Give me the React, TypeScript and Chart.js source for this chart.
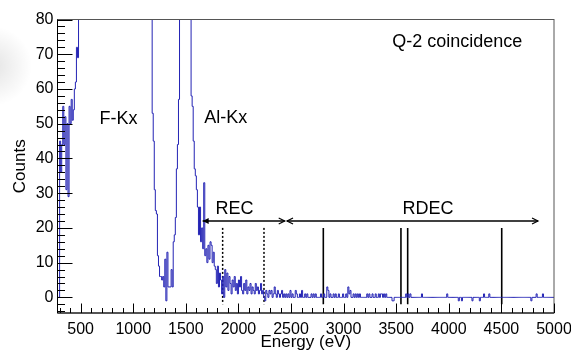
import React, { useEffect, useRef } from "react";
import { Chart, registerables } from "chart.js";

Chart.register(...registerables);

// ---- histogram data: 10 eV bins starting at 280 eV ----
const BIN_WIDTH = 10;
const X_START = 280;
const X_END = 5000;

// 280-470 eV
const lowEdgeCounts = [0, 0, 45, 36, 44, 55, 44, 52, 31, 50, 29, 55, 50, 57, 51, 54, 60, 62, 72, 69];
// 480-1170 eV (F-Kx peak, off scale)
const fPeakCounts = [
  95, 120, 150, 190, 240, 300, 380, 470, 580, 700,
  850, 1000, 1150, 1300, 1420, 1520, 1600, 1650, 1680, 1690,
  1680, 1650, 1600, 1540, 1470, 1390, 1300, 1210, 1120, 1030,
  940, 860, 780, 700, 630, 570, 510, 460, 410, 370,
  330, 300, 270, 250, 230, 210, 195, 180, 170, 160,
  150, 145, 140, 135, 130, 128, 126, 124, 122, 120,
  118, 115, 112, 110, 108, 105, 102, 98, 94, 88,
];
// 1180-1430 eV (valley)
const valleyCounts = [53, 45, 31, 25, 24, 12, 9, 6, 6, 5, 6, 3, 11, -1, 13, 3, 3, 3, 8, 3, 16, 18, 23, 37, 44, 57];
// 1440-1540 eV (Al-Kx peak, off scale)
const alPeakCounts = [110, 240, 520, 900, 1300, 1450, 1250, 850, 450, 200, 95];
// 1550-2290 eV
const recTailCounts = [
  58, 55, 45, 37, 35, 31, 26, 18, 26, 16,
  20, 14, 33, 12, 14, 10, 15, 11, 16, 15,
  10, 13, 9, 8, 4, 9, 3, 7, 5, 1,
  6, 0, 8, 3, 7, 2, 6, 4, 1, 5,
  3, 6, 2, 4, 1, 5, 3, 6, 2, 1,
  4, 2, 5, 1, 3, 2, 4, 1, 3, 2,
  1, 4, 2, 3, 1, 2, 4, 1, 2, 0,
  -1, 2, 1, 0, 2,
];
// 2300-2990 eV
const tailA = [
  1, 2, 0, 1, 3, 1, 0, 2, 1, 0,
  1, 2, 0, 1, 0, 1, 0, 1, 0, 2,
  0, 1, 0, 0, 2, 1, 0, 0, 1, 0,
  2, 0, 0, 1, 0, 1, 0, 0, 0, 1,
  0, 1, 0, 1, 0, 0, 0, 0, 1, 0,
  0, 1, 0, 0, 3, 2, 0, 1, 0, 0,
  1, 0, 1, 0, 0, 1, 0, 0, 0, 1,
];
// 3000-3990 eV
const tailB = [
  0, 0, 1, 0, 3, 1, 2, 0, 0, 1,
  0, 1, 0, 1, 0, 1, 0, 0, 0, 0,
  0, 0, 1, 0, 1, 0, 0, 1, 0, 0,
  1, 0, 0, 1, 0, 1, 1, 0, 1, 0,
  1, 0, 0, 0, 0, 0, -1, -1, 0, 0,
  0, 0, 0, 0, 0, 0, 0, 0, 0, 1,
  0, 1, 0, 1, 0, 0, 0, 0, 0, 0,
  0, 0, 0, 0, 1, 0, 0, 0, 0, 0,
  0, 0, 0, 0, 0, 0, 0, 0, 0, 0,
  0, 0, 0, 0, 0, 0, 0, 0, 1, 0,
];
// 4000-4990 eV
const tailC = [
  0, 0, 0, 0, 0, 0, 0, 0, 0, -1,
  0, 0, -1, 0, 0, 0, 0, 0, 0, 0,
  0, 0, -1, 0, 0, 0, 0, 0, 0, -1,
  0, 0, 0, 1, 0, 0, 0, 0, 1, 0,
  0, 0, 0, 0, 0, 0, 0, 0, 0, 0,
  0, 0, 0, 0, 0, 0, 0, 0, 0, 0,
  0, 0, 0, 0, 0, 0, 0, 0, 0, 0,
  0, 0, 0, 0, 0, 0, 0, 0, -1, 0,
  0, 0, 0, 1, 0, 0, 0, 0, 0, 1,
  0, 0, 0, 0, 0, 0, 0, 0, 0, 0,
];

// marker lines (eV)
const dottedMarkers = [1850, 2243];
const solidMarkers = [2807, 3545, 3609, 4503];
const markerTop = 20;
const markerBottom = -2;

// axis ticks
const xTickValues = [500, 1000, 1500, 2000, 2500, 3000, 3500, 4000, 4500, 5000];
const yTickValues = [0, 10, 20, 30, 40, 50, 60, 70, 80];

// arrows (eV, counts)
const recArrow = { from: 1660, to: 2440, y: 22 };
const rdecArrow = { from: 2462, to: 4848, y: 22 };

const labels = [
  { text: "F-Kx", x: 860, y: 51.9 },
  { text: "Al-Kx", x: 1880, y: 52.1 },
  { text: "REC", x: 1963, y: 26.0 },
  { text: "RDEC", x: 3803, y: 26.0 },
  { text: "Q-2 coincidence", x: 4081, y: 73.9 },
];

const FONT = "'Liberation Sans', Arial, Helvetica, sans-serif";

function buildHistogram() {
  const all = [
    ...lowEdgeCounts,
    ...fPeakCounts,
    ...valleyCounts,
    ...alPeakCounts,
    ...recTailCounts,
    ...tailA,
    ...tailB,
    ...tailC,
  ];
  const pts = all.map((v, i) => ({ x: X_START + i * BIN_WIDTH, y: v }));
  pts.push({ x: X_END, y: all[all.length - 1] });
  return pts;
}

const rootPlugin = {
  id: "rootStyle",
  beforeDraw(chart: any) {
    const ctx = chart.ctx;
    ctx.save();
    ctx.fillStyle = "#fff";
    ctx.fillRect(0, 0, chart.width, chart.height);
    const g = ctx.createRadialGradient(-8, 66, 2, -8, 66, 40);
    g.addColorStop(0, "rgba(0,0,0,0.10)");
    g.addColorStop(1, "rgba(0,0,0,0)");
    ctx.fillStyle = g;
    ctx.fillRect(0, 15, 45, 110);
    ctx.restore();
  },
  afterDatasetsDraw(chart: any) {
    const ctx = chart.ctx;
    const xs = chart.scales.x;
    const ys = chart.scales.y;
    const a = chart.chartArea;
    ctx.save();

    // frame
    ctx.lineWidth = 1;
    ctx.strokeStyle = "#555";
    ctx.strokeRect(a.left, a.top, a.right - a.left, a.bottom - a.top);
    ctx.strokeStyle = "#000";
    ctx.beginPath();
    ctx.moveTo(a.left, a.top);
    ctx.lineTo(a.left, a.bottom);
    ctx.lineTo(a.right, a.bottom);
    ctx.stroke();

    // y ticks (inside)
    ctx.beginPath();
    for (let v = -4; v <= 80; v += 2) {
      const py = Math.round(ys.getPixelForValue(v)) + 0.5;
      const len = v % 10 === 0 ? 15 : 7.5;
      ctx.moveTo(a.left, py);
      ctx.lineTo(a.left + len, py);
    }
    // x ticks (inside)
    for (let v = 300; v <= 5000; v += 100) {
      const px = Math.round(xs.getPixelForValue(v)) + 0.5;
      const len = v % 500 === 0 ? 9.5 : 5;
      ctx.moveTo(px, a.bottom);
      ctx.lineTo(px, a.bottom - len);
    }
    ctx.stroke();

    // arrows
    const arrow = (x1: number, x2: number, y: number, leftFilled: boolean, rightFilled: boolean) => {
      const p1 = xs.getPixelForValue(x1);
      const p2 = xs.getPixelForValue(x2);
      const py = ys.getPixelForValue(y);
      ctx.lineWidth = 1.5;
      ctx.strokeStyle = "#000";
      ctx.fillStyle = "#000";
      ctx.beginPath();
      ctx.moveTo(p1, py);
      ctx.lineTo(p2, py);
      ctx.stroke();
      const head = (tip: number, dir: number, filled: boolean) => {
        ctx.beginPath();
        ctx.moveTo(tip - dir * 6, py - 3);
        ctx.lineTo(tip, py);
        ctx.lineTo(tip - dir * 6, py + 3);
        if (filled) {
          ctx.closePath();
          ctx.fill();
        } else {
          ctx.lineWidth = 1.2;
          ctx.stroke();
        }
      };
      head(p1, -1, leftFilled);
      head(p2, 1, rightFilled);
    };
    arrow(recArrow.from, recArrow.to, recArrow.y, true, false);
    arrow(rdecArrow.from, rdecArrow.to, rdecArrow.y, false, false);

    // text labels
    ctx.fillStyle = "#000";
    ctx.font = `18px ${FONT}`;
    ctx.textAlign = "center";
    ctx.textBaseline = "alphabetic";
    for (const l of labels) {
      ctx.fillText(l.text, xs.getPixelForValue(l.x), ys.getPixelForValue(l.y) + 18 * 0.358);
    }

    // axis titles
    ctx.font = `17px ${FONT}`;
    ctx.fillText("Energy (eV)", (a.left + a.right) / 2, 346.5);
    ctx.save();
    ctx.translate(25, (a.top + a.bottom) / 2);
    ctx.rotate(-Math.PI / 2);
    ctx.fillText("Counts", 0, 0);
    ctx.restore();

    ctx.restore();
  },
};

export default function App() {
  const ref = useRef<HTMLCanvasElement | null>(null);

  useEffect(() => {
    document.body.style.margin = "0";
    const canvas = ref.current;
    if (!canvas) return;

    const markerSets = [
      ...dottedMarkers.map((e) => ({
        data: [
          { x: e, y: markerTop },
          { x: e, y: markerBottom },
        ],
        borderColor: "#000",
        borderWidth: 1.5,
        borderDash: [2, 2],
        pointRadius: 0,
      })),
      ...solidMarkers.map((e) => ({
        data: [
          { x: e, y: markerTop },
          { x: e, y: markerBottom },
        ],
        borderColor: "#000",
        borderWidth: 1.6,
        pointRadius: 0,
      })),
    ];

    const chart = new Chart(canvas, {
      type: "line",
      data: {
        datasets: [
          {
            data: buildHistogram(),
            borderColor: "#2323b4",
            borderWidth: 1,
            stepped: true,
            pointRadius: 0,
            fill: false,
          } as any,
          ...(markerSets as any[]),
        ],
      },
      options: {
        animation: false,
        responsive: false,
        devicePixelRatio: 1,
        events: [],
        layout: { padding: { top: 19.5, right: 17, left: 0, bottom: 0 } },
        plugins: { legend: { display: false }, tooltip: { enabled: false } },
        scales: {
          x: {
            type: "linear",
            min: X_START,
            max: X_END,
            grid: { display: false, drawTicks: false },
            border: { display: false },
            ticks: {
              color: "#000",
              font: { family: FONT, size: 16 },
              padding: 7,
              maxRotation: 0,
              autoSkip: false,
              callback: (v: any) => String(v),
            },
            afterBuildTicks: (s: any) => {
              s.ticks = xTickValues.map((v) => ({ value: v }));
            },
            afterFit: (s: any) => {
              s.height = 39;
              s.paddingLeft = 0;
              s.paddingRight = 0;
            },
          },
          y: {
            type: "linear",
            min: -4.5,
            max: 80,
            grid: { display: false, drawTicks: false },
            border: { display: false },
            ticks: {
              color: "#000",
              font: { family: FONT, size: 16 },
              padding: 4,
              autoSkip: false,
              callback: (v: any) => String(v),
            },
            afterBuildTicks: (s: any) => {
              s.ticks = yTickValues.map((v) => ({ value: v }));
            },
            afterFit: (s: any) => {
              s.width = 57.5;
              s.paddingTop = 0;
              s.paddingBottom = 0;
            },
          },
        },
      },
      plugins: [rootPlugin],
    });

    return () => chart.destroy();
  }, []);

  return (
    <div style={{ position: "fixed", left: 0, top: 0, width: 571, height: 352 }}>
      <canvas ref={ref} width={571} height={352} style={{ width: 571, height: 352 }} />
    </div>
  );
}
